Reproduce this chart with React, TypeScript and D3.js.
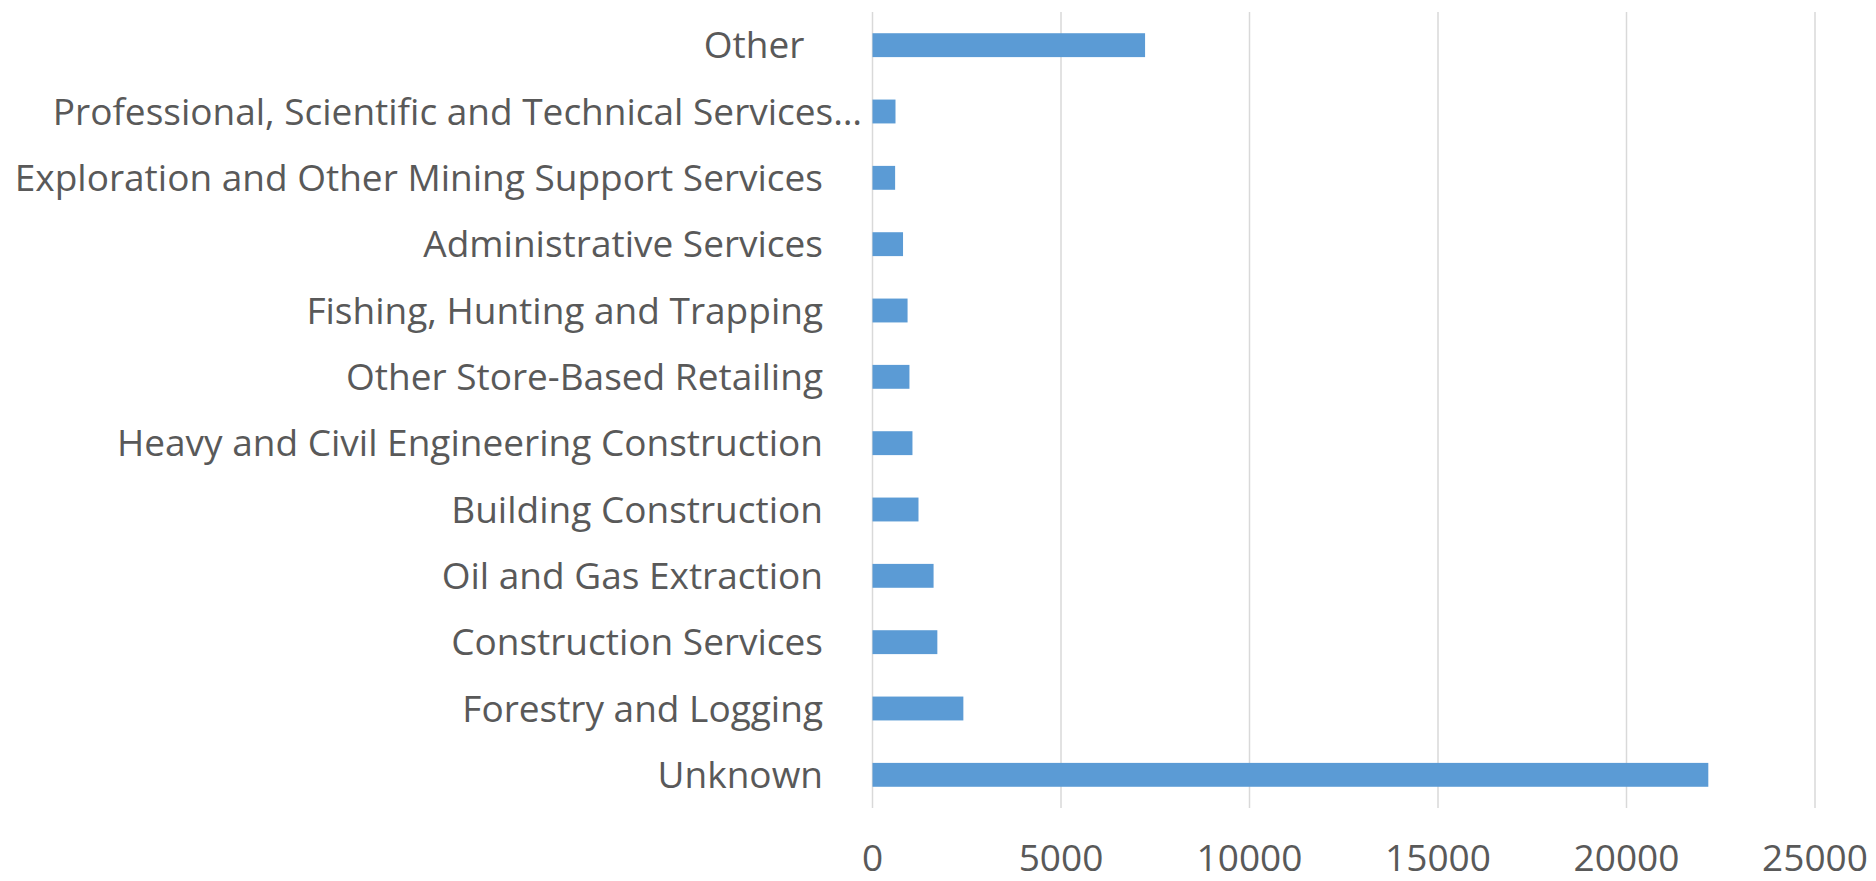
import React from "react";
import * as d3 from "d3";

const categories = [
  "Other\u00a0",
  "Professional, Scientific and Technical Services\u2026",
  "Exploration and Other Mining Support Services",
  "Administrative Services",
  "Fishing, Hunting and Trapping",
  "Other Store-Based Retailing",
  "Heavy and Civil Engineering Construction",
  "Building Construction",
  "Oil and Gas Extraction",
  "Construction Services",
  "Forestry and Logging",
  "Unknown",
];
const values = [7230, 610, 600, 810, 930, 980, 1060, 1220, 1620, 1720, 2410, 22170];
const xTicks = [0, 5000, 10000, 15000, 20000, 25000];

const W = 1876;
const H = 881;
const plotLeft = 872.5;
const plotRight = 1815;
const plotTop = 12;
const plotBottom = 808;

export default function App() {
  const x = d3.scaleLinear().domain([0, 25000]).range([plotLeft, plotRight]);
  const y = d3
    .scaleBand<string>()
    .domain(categories)
    .range([plotTop, plotBottom])
    .paddingInner(0.64)
    .paddingOuter(0.32);
  const font = "'Open Sans', sans-serif";
  return (
    <div style={{ position: "absolute", left: 0, top: 0 }}>
      <svg width={W} height={H} style={{ display: "block", fontVariantLigatures: "none" }}>
        <rect width={W} height={H} fill="#fff" />
        {xTicks.map((t) => (
          <line key={t} x1={x(t)} x2={x(t)} y1={plotTop} y2={plotBottom} stroke="#d9d9d9" strokeWidth={1.5} />
        ))}
        {categories.map((c, i) => (
          <rect
            key={c}
            x={x(0)}
            y={y(c)}
            width={x(values[i]) - x(0)}
            height={y.bandwidth()}
            fill="#5b9bd5"
          />
        ))}
        {categories.map((c, i) => (
          <text
            key={c}
            x={i === 1 ? 862 : 823}
            dx={i === 0 ? -9 : 0}
            y={(y(c) as number) + y.bandwidth() / 2}
            dy="0.357em"
            textAnchor="end"
            fontFamily={font}
            fontSize={37}
            fill="#595959"
          >
            {c}
          </text>
        ))}
        {xTicks.map((t) => (
          <text
            key={t}
            x={x(t)}
            y={871}
            textAnchor="middle"
            fontFamily={font}
            fontSize={37}
            fill="#595959"
          >
            {t}
          </text>
        ))}
      </svg>
    </div>
  );
}
